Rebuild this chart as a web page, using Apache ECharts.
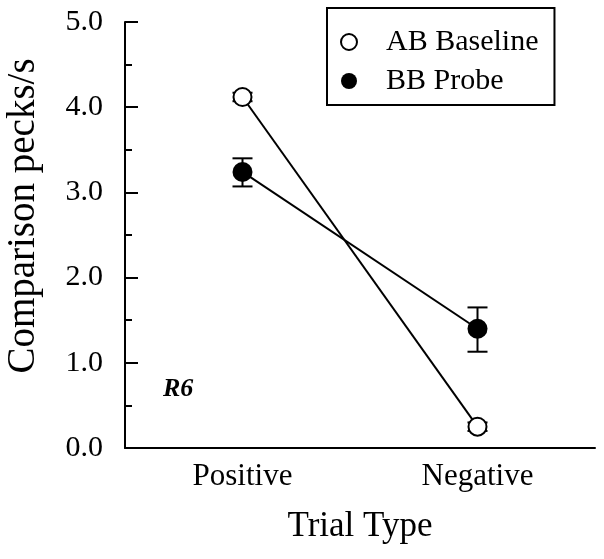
<!DOCTYPE html>
<html><head><meta charset="utf-8">
<script src="https://cdn.jsdelivr.net/npm/echarts@6/dist/echarts.min.js"></script>
<style>html,body{margin:0;padding:0;background:#fff}#c{width:604px;height:559px}</style>
</head><body><div id="c"></div>
<script>
const categories = ['Positive', 'Negative'];
const abBaseline = [4.12, 0.25];
const abLow = [4.07, 0.20];
const abHigh = [4.17, 0.30];
const bbProbe = [3.24, 1.40];
const bbLow = [3.07, 1.13];
const bbHigh = [3.40, 1.65];
const yTicks = [0, 1, 2, 3, 4, 5];

const font = 'Liberation Serif';
const chart = echarts.init(document.getElementById('c'));

function errSeries(low, high) {
  return {
    type: 'custom',
    z: 1,
    data: categories.map((c, i) => [i, low[i], high[i]]),
    renderItem: function (params, api) {
      const lo = api.coord([api.value(0), api.value(1)]);
      const hi = api.coord([api.value(0), api.value(2)]);
      const hw = 10;
      const st = { stroke: '#000', lineWidth: 2 };
      return { type: 'group', children: [
        { type: 'line', shape: { x1: lo[0], y1: lo[1], x2: hi[0], y2: hi[1] }, style: st },
        { type: 'line', shape: { x1: lo[0] - hw, y1: lo[1], x2: lo[0] + hw, y2: lo[1] }, style: st },
        { type: 'line', shape: { x1: hi[0] - hw, y1: hi[1], x2: hi[0] + hw, y2: hi[1] }, style: st }
      ]};
    },
    silent: true
  };
}

chart.setOption({
  animation: false,
  backgroundColor: '#fff',
  grid: { left: 125, right: 9, top: 22, bottom: 111, containLabel: false, outerBoundsMode: 'none' },
  legend: {
    orient: 'vertical',
    left: 327, top: 8,
    padding: [19, 16, 9, 13],
    itemGap: 9,
    borderColor: '#000', borderWidth: 2,
    itemWidth: 16, itemHeight: 16,
    textStyle: { fontFamily: font, fontSize: 30, lineHeight: 30, color: '#000', padding: [0, 0, 0, 24] },
    data: [
      { name: 'AB Baseline', icon: 'circle', itemStyle: { color: '#fff', borderColor: '#000', borderWidth: 2 } },
      { name: 'BB Probe', icon: 'circle', itemStyle: { color: '#000', borderColor: '#000', borderWidth: 0 } }
    ]
  },
  xAxis: {
    type: 'category',
    data: categories,
    boundaryGap: true,
    name: 'Trial Type',
    nameLocation: 'middle',
    nameGap: 61,
    nameTextStyle: { fontFamily: font, fontSize: 35, color: '#000' },
    axisLine: { lineStyle: { color: '#000', width: 2 } },
    axisTick: { inside: true, alignWithLabel: true, length: 13, lineStyle: { color: '#000', width: 2 } },
    axisLabel: { fontFamily: font, fontSize: 31, color: '#000', margin: 13 },
    splitLine: { show: false }
  },
  yAxis: {
    type: 'value',
    min: 0, max: 5, interval: 1,
    name: 'Comparison pecks/s',
    nameLocation: 'middle',
    nameGap: 82,
    nameTextStyle: { fontFamily: font, fontSize: 39, color: '#000', padding: [0, 0, 0, 38] },
    axisLine: { show: true, lineStyle: { color: '#000', width: 2 } },
    axisTick: { show: true, inside: true, length: 13, lineStyle: { color: '#000', width: 2 } },
    minorTick: { show: true, splitNumber: 2, length: 7, lineStyle: { color: '#000', width: 2 } },
    axisLabel: { fontFamily: font, fontSize: 30, color: '#000', margin: 22,
      formatter: v => yTicks.includes(v) ? v.toFixed(1) : '' },
    splitLine: { show: false }
  },
  series: [
    errSeries(abLow, abHigh),
    errSeries(bbLow, bbHigh),
    {
      name: 'AB Baseline', type: 'line', z: 3,
      data: abBaseline,
      symbol: 'circle', symbolSize: 18,
      lineStyle: { color: '#000', width: 2 },
      itemStyle: { color: '#fff', borderColor: '#000', borderWidth: 2 }
    },
    {
      name: 'BB Probe', type: 'line', z: 3,
      data: bbProbe,
      symbol: 'circle', symbolSize: 20,
      lineStyle: { color: '#000', width: 2 },
      itemStyle: { color: '#000', borderColor: '#000', borderWidth: 0 }
    }
  ],
  graphic: [
    { type: 'text', left: 163, top: 376,
      style: { text: 'R6', font: 'italic bold 26px "Liberation Serif"', fill: '#000' } }
  ]
});
</script></body></html>
